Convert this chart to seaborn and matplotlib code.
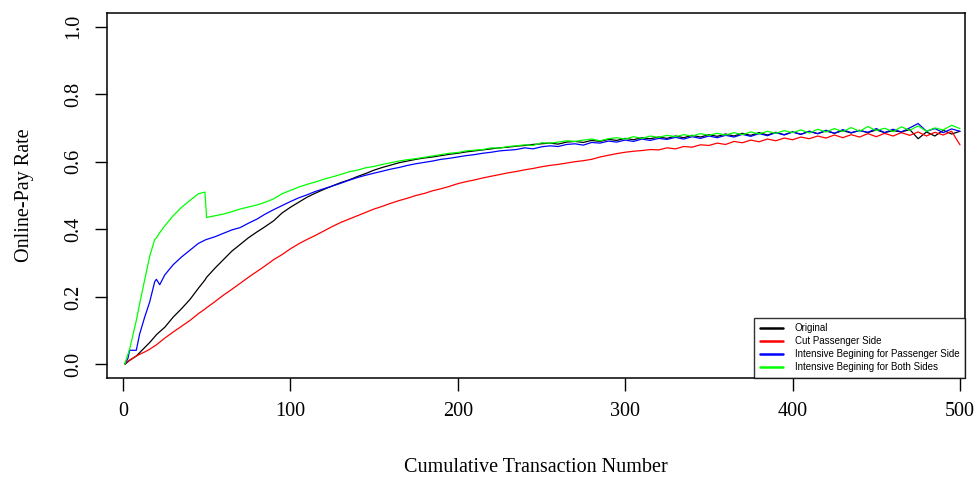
import matplotlib
matplotlib.use("Agg")
import matplotlib.pyplot as plt
import seaborn as sns
import pandas as pd

x_early = [1, 3, 4, 8, 10, 13, 16, 19, 20, 22, 25, 30, 35, 40, 45, 49]
x_main = list(range(50, 505, 5))
x_vals = x_early + x_main

series_names = ["Original", "Cut Passenger Side",
                "Intensive Begining for Passenger Side",
                "Intensive Begining for Both Sides"]
series_colors = ["#000000", "#FF0000", "#0000FF", "#00FF00"]

original = [0.0, 0.008, 0.012, 0.025, 0.035, 0.05, 0.065, 0.082, 0.088, 0.097, 0.11, 0.14, 0.165, 0.192, 0.225, 0.25,
            0.258, 0.285, 0.31, 0.335, 0.355, 0.375, 0.392, 0.408, 0.425, 0.448,
            0.465, 0.48, 0.495, 0.507, 0.518, 0.528, 0.538, 0.546, 0.556, 0.565,
            0.575, 0.583, 0.59, 0.597, 0.602, 0.607, 0.611, 0.614, 0.618, 0.622,
            0.625, 0.629, 0.632, 0.635, 0.638, 0.641, 0.643, 0.646, 0.648, 0.651,
            0.653, 0.655, 0.652, 0.658, 0.66, 0.657, 0.663, 0.66, 0.666, 0.663,
            0.669, 0.665, 0.671, 0.668, 0.673, 0.669, 0.676, 0.671, 0.678, 0.673,
            0.68, 0.675, 0.682, 0.676, 0.684, 0.678, 0.686, 0.679, 0.687, 0.68,
            0.688, 0.681, 0.69, 0.683, 0.691, 0.684, 0.692, 0.685, 0.693, 0.686,
            0.694, 0.686, 0.692, 0.688, 0.695, 0.668, 0.688, 0.676, 0.693, 0.682,
            0.69]

cut_passenger = [0.0, 0.01, 0.013, 0.025, 0.03, 0.037, 0.045, 0.055, 0.058, 0.066, 0.078, 0.096, 0.113, 0.13, 0.15, 0.164,
                 0.168, 0.186, 0.205, 0.222, 0.24, 0.258, 0.275, 0.292, 0.31, 0.325,
                 0.342, 0.357, 0.37, 0.382, 0.395, 0.408, 0.42, 0.43, 0.44, 0.45,
                 0.46, 0.468, 0.477, 0.485, 0.492, 0.5, 0.506, 0.514, 0.52, 0.527,
                 0.535, 0.541, 0.546, 0.552, 0.557, 0.562, 0.567, 0.571, 0.576, 0.58,
                 0.585, 0.589, 0.592, 0.596, 0.6, 0.603, 0.607, 0.614, 0.619, 0.624,
                 0.628, 0.631, 0.633, 0.636, 0.635, 0.641, 0.638, 0.645, 0.643, 0.65,
                 0.648, 0.655, 0.651, 0.66, 0.656, 0.664, 0.659, 0.667, 0.662, 0.67,
                 0.665, 0.673, 0.668, 0.676, 0.67, 0.679, 0.671, 0.68, 0.673, 0.683,
                 0.674, 0.684, 0.676, 0.686, 0.678, 0.688, 0.676, 0.687, 0.679, 0.69,
                 0.65]

intensive_passenger = [0.0, 0.018, 0.042, 0.042, 0.09, 0.14, 0.185, 0.245, 0.252, 0.236, 0.265, 0.295, 0.318, 0.338, 0.358, 0.368,
                       0.37, 0.378, 0.388, 0.398, 0.405, 0.418, 0.43, 0.445, 0.458, 0.47,
                       0.482, 0.493, 0.502, 0.512, 0.52, 0.528, 0.536, 0.545, 0.553, 0.56,
                       0.566, 0.572, 0.578, 0.583, 0.589, 0.594, 0.598, 0.602, 0.607, 0.61,
                       0.614, 0.618, 0.621, 0.625, 0.628, 0.632, 0.634, 0.636, 0.641, 0.638,
                       0.644, 0.647, 0.645, 0.651, 0.653, 0.649, 0.657, 0.655, 0.661, 0.658,
                       0.664, 0.66, 0.667, 0.663, 0.669, 0.666, 0.672, 0.667, 0.674, 0.669,
                       0.676, 0.671, 0.678, 0.673, 0.681, 0.675, 0.683, 0.677, 0.686, 0.679,
                       0.688, 0.681, 0.69, 0.683, 0.693, 0.684, 0.695, 0.686, 0.692, 0.687,
                       0.698, 0.686, 0.696, 0.688, 0.7, 0.713, 0.69, 0.698, 0.686, 0.697,
                       0.69]

intensive_both = [0.0, 0.03, 0.045, 0.13, 0.18, 0.25, 0.32, 0.37, 0.375, 0.39, 0.41, 0.44, 0.465, 0.485, 0.505, 0.51,
                  0.435, 0.44, 0.445, 0.452, 0.46, 0.466, 0.472, 0.48, 0.49, 0.505,
                  0.515, 0.525, 0.533, 0.54, 0.548, 0.555, 0.562, 0.57, 0.575, 0.582,
                  0.586, 0.592, 0.597, 0.602, 0.606, 0.609, 0.613, 0.617, 0.621, 0.625,
                  0.627, 0.632, 0.634, 0.636, 0.641, 0.64, 0.645, 0.647, 0.65, 0.648,
                  0.656, 0.655, 0.658, 0.662, 0.66, 0.664, 0.667, 0.662, 0.668, 0.671,
                  0.667, 0.674, 0.669, 0.676, 0.672, 0.678, 0.674, 0.68, 0.676, 0.683,
                  0.678, 0.684, 0.679, 0.686, 0.68, 0.688, 0.682, 0.69, 0.684, 0.692,
                  0.686, 0.694, 0.685, 0.696, 0.688, 0.698, 0.689, 0.701, 0.69, 0.704,
                  0.692, 0.699, 0.689, 0.703, 0.693, 0.706, 0.69, 0.7, 0.694, 0.708,
                  0.698]

x_ticks = [0, 100, 200, 300, 400, 500]
y_ticks = [0.0, 0.2, 0.4, 0.6, 0.8, 1.0]
y_tick_labels = ["0.0", "0.2", "0.4", "0.6", "0.8", "1.0"]

frames = []
for name, vals in zip(series_names, [original, cut_passenger, intensive_passenger, intensive_both]):
    frames.append(pd.DataFrame({"x": x_vals, "y": vals, "series": name}))
df = pd.concat(frames, ignore_index=True)

sns.set_style("ticks")
plt.rcParams["font.family"] = ["Liberation Serif", "DejaVu Serif"]
plt.rcParams["text.color"] = "black"
plt.rcParams["axes.labelcolor"] = "black"

fig = plt.figure(figsize=(9.77, 4.83), dpi=100)
ax = fig.add_axes([107 / 977, 1 - 378 / 483, (965 - 107) / 977, (378 - 13) / 483])

sns.lineplot(data=df, x="x", y="y", hue="series", hue_order=series_names,
             palette=dict(zip(series_names, series_colors)), linewidth=0.9,
             ax=ax, legend=True, estimator=None, sort=False)

ax.set_xlim(-9.5, 503)
ax.set_ylim(-0.04, 1.04)
ax.set_xticks(x_ticks)
ax.set_xticklabels([str(t) for t in x_ticks], fontsize=14.5)
ax.set_yticks(y_ticks)
ax.set_yticklabels(y_tick_labels, fontsize=14.5, rotation=90, va="center")
ax.tick_params(axis="both", direction="out", length=9, width=1, colors="black")
ax.tick_params(axis="x", pad=8)
ax.tick_params(axis="y", pad=8)
for s in ax.spines.values():
    s.set_visible(True)
    s.set_linewidth(1.1)
    s.set_color("black")

ax.set_xlabel("Cumulative Transaction Number", fontsize=14.5, labelpad=27, color="black")
ax.set_ylabel("Online-Pay Rate", fontsize=14.5, labelpad=22, color="black")

handles, labels = ax.get_legend_handles_labels()
for h in handles:
    h.set_linewidth(1.8)
leg = ax.legend(handles, labels, loc="lower right", borderaxespad=0,
                prop={"family": "Liberation Sans", "size": 7},
                frameon=True, fancybox=False, edgecolor="black",
                handlelength=2.4, labelspacing=0.3, borderpad=0.6, handletextpad=1.2)
leg.get_frame().set_linewidth(1.0)
for t in leg.get_texts():
    t.set_color("black")

fig.savefig("out.png", dpi=100)
